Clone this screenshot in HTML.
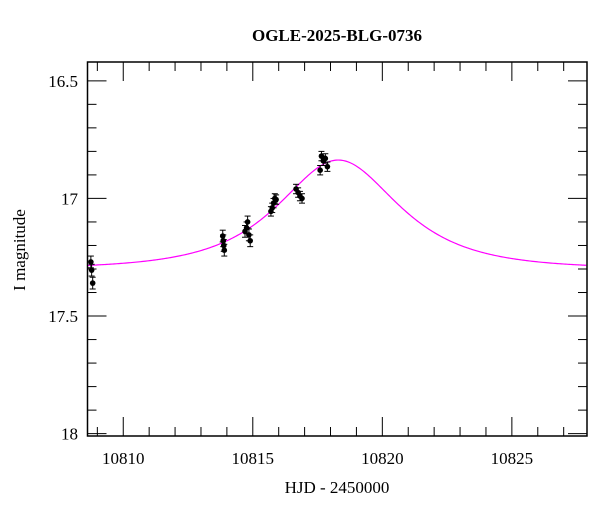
<!DOCTYPE html>
<html><head><meta charset="utf-8"><style>
html,body{margin:0;padding:0;background:#fff;width:600px;height:512px;overflow:hidden}
svg text{font-family:"Liberation Serif",serif;fill:#000}
</style></head><body>
<svg id="chart" width="600" height="512" xmlns="http://www.w3.org/2000/svg">
<text x="337" y="41" text-anchor="middle" font-size="17" font-weight="bold">OGLE-2025-BLG-0736</text>
<text x="337" y="493" text-anchor="middle" font-size="17">HJD - 2450000</text>
<text transform="translate(25,250) rotate(-90)" text-anchor="middle" font-size="17">I magnitude</text>
<g id="ticks"></g><g id="model"></g><g id="points"></g>
<rect x="87.5" y="62" width="499.5" height="374" fill="none" stroke="#000" stroke-width="1.5"/>
</svg>
<script>
const obsTime=[10808.75,10808.78,10808.82,10813.84,10813.86,10813.88,10813.9,10814.7,10814.76,10814.8,10814.85,10814.9,10815.7,10815.75,10815.8,10815.85,10815.9,10816.67,10816.75,10816.82,10816.9,10817.6,10817.65,10817.72,10817.8,10817.88];
const obsMag=[17.27,17.305,17.36,17.16,17.18,17.2,17.22,17.14,17.125,17.1,17.155,17.18,17.055,17.04,17.02,17.0,17.005,16.96,16.975,16.99,17.0,16.88,16.82,16.84,16.83,16.865];
const obsErr=[0.025,0.025,0.025,0.025,0.025,0.025,0.025,0.025,0.025,0.025,0.025,0.025,0.02,0.02,0.02,0.02,0.02,0.02,0.02,0.02,0.02,0.02,0.02,0.02,0.02,0.02];
const modelParams=[10818.3,0.8,3.16,17.3]; // t0,u0,tE,baseline
const xTickLabels=[10810,10815,10820,10825];
const yTickLabels=["16.5","17","17.5","18"];
const NS="http://www.w3.org/2000/svg";
const X0=87.5,X1=587,Y0=62,Y1=436,xmin=10808.62,xmax=10827.9,ymin=16.42,ymax=18.01;
const sx=t=>X0+(t-xmin)/(xmax-xmin)*(X1-X0);
const sy=m=>Y0+(m-ymin)/(ymax-ymin)*(Y1-Y0);
function mk(tag,attrs,parent){const e=document.createElementNS(NS,tag);for(const k in attrs)e.setAttribute(k,attrs[k]);parent.appendChild(e);return e;}
const tg=document.getElementById('ticks');
for(let t=10809;t<=10827;t++){const maj=t%5===0,L=maj?19:9;
 const a=mk('line',{x1:sx(t),x2:sx(t),y1:Y1,y2:Y1-L,stroke:'#000','stroke-width':1},tg);
 
 
 const b=mk('line',{x1:sx(t),x2:sx(t),y1:Y0,y2:Y0+L,stroke:'#000','stroke-width':1},tg);
 
 }
xTickLabels.forEach(v=>{const e=mk('text',{x:sx(v),y:Y1+28,'text-anchor':'middle','font-size':17},tg);e.textContent=v;
 
 });
for(let i=5;i<=18*10-160+0;i++){}
for(let k=165;k<=180;k++){const m=k/10,maj=k%5===0,L=maj?19:9;
 const a=mk('line',{x1:X0,x2:X0+L,y1:sy(m),y2:sy(m),stroke:'#000','stroke-width':1},tg);
 
 
 const b=mk('line',{x1:X1,x2:X1-L,y1:sy(m),y2:sy(m),stroke:'#000','stroke-width':1},tg);
 
 }
yTickLabels.forEach(v=>{const e=mk('text',{x:78,y:sy(parseFloat(v))+6,'text-anchor':'end','font-size':17},tg);e.textContent=v;
 
 });
// model
const [t0,u0,tE,base]=modelParams;let d='';
for(let t=xmin;t<=xmax;t+=0.05){const u=Math.sqrt(u0*u0+((t-t0)/tE)**2);const A=(u*u+2)/(u*Math.sqrt(u*u+4));
 d+=(d?'L':'M')+sx(t).toFixed(2)+','+sy(base-2.5*Math.log10(A)).toFixed(2);}
const p=mk('path',{d:d,fill:'none',stroke:'#ff00ff','stroke-width':1.2},document.getElementById('model'));


const pg=document.getElementById('points');
obsTime.forEach((t,i)=>{const x=sx(t),y=sy(obsMag[i]),ya=sy(obsMag[i]-obsErr[i]),yb=sy(obsMag[i]+obsErr[i]);
 const g=mk('g',{},pg);
 
 
 mk('line',{x1:x,x2:x,y1:ya,y2:yb,stroke:'#000','stroke-width':1},g);
 mk('line',{x1:x-3,x2:x+3,y1:ya,y2:ya,stroke:'#000','stroke-width':1},g);
 mk('line',{x1:x-3,x2:x+3,y1:yb,y2:yb,stroke:'#000','stroke-width':1},g);
 mk('circle',{cx:x,cy:y,r:2.8,fill:'#000'},g);});
</script>
</body></html>
